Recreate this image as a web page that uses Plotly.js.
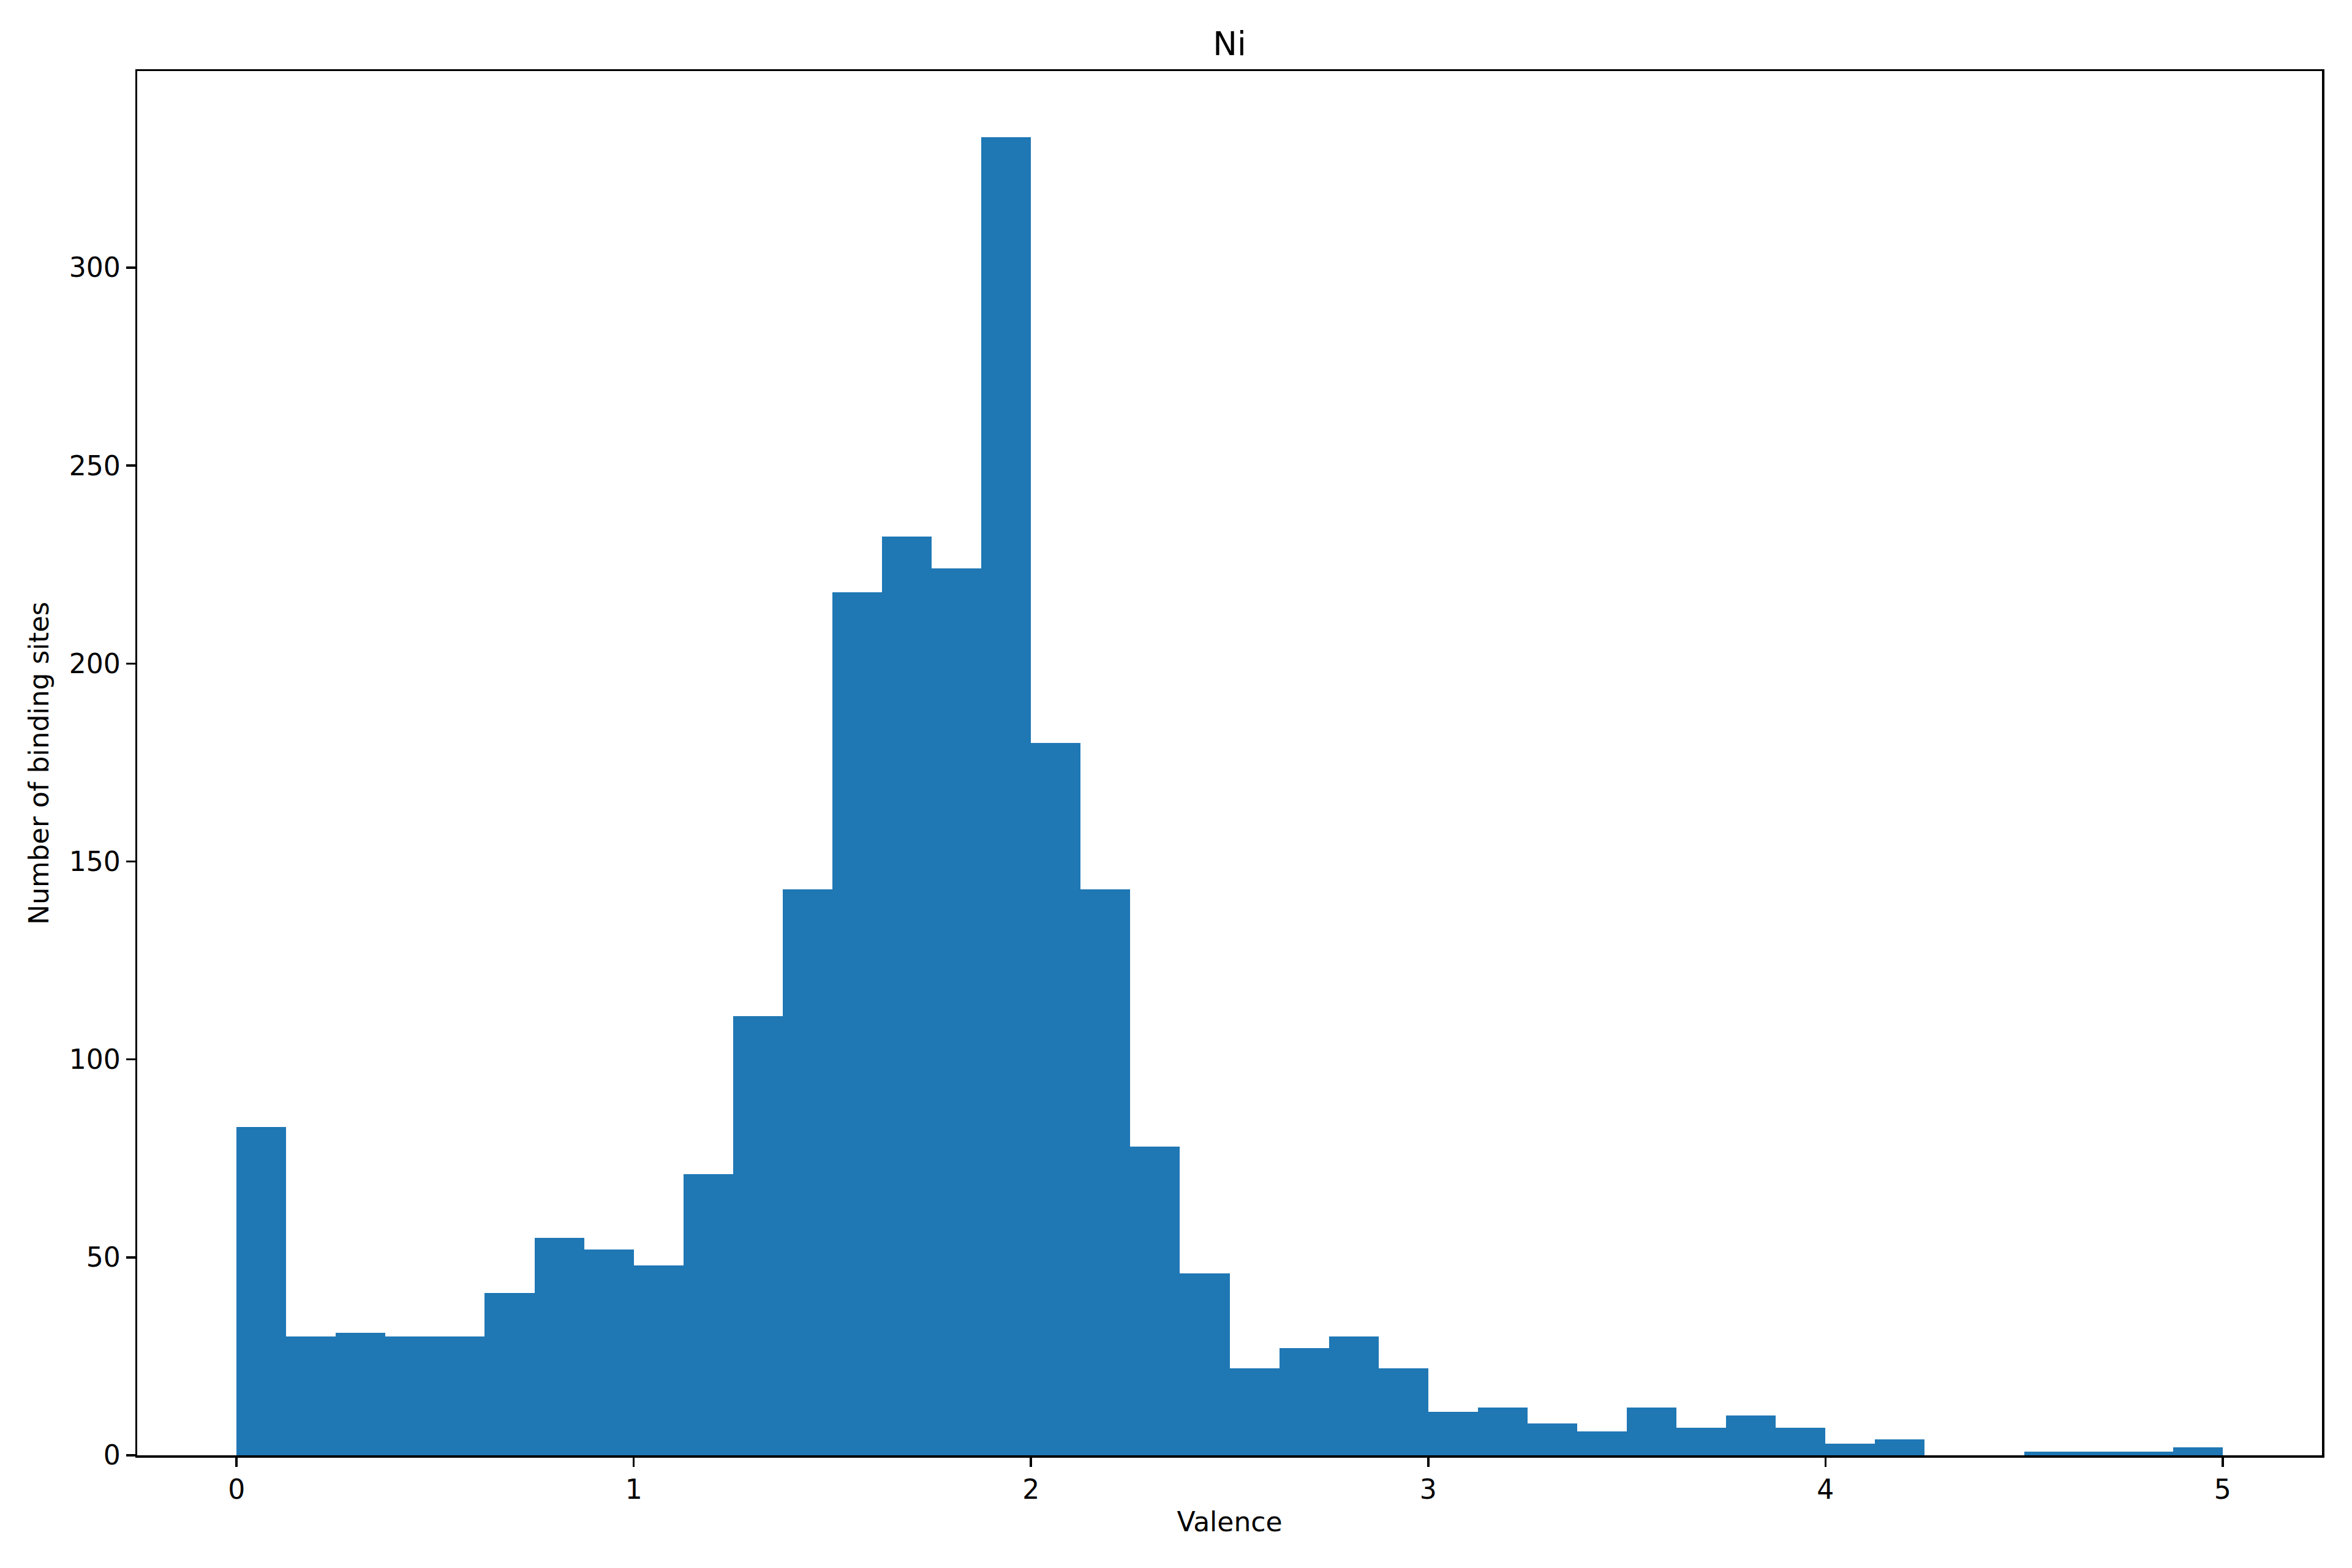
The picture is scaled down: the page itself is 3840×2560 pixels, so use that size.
<!DOCTYPE html>
<html>
<head>
<meta charset="utf-8">
<script src="https://cdn.plot.ly/plotly-3.0.1.min.js"></script>
<style>html,body{margin:0;padding:0;background:#fff;}#chart{width:3840px;height:2560px;}</style>
</head>
<body>
<div id="chart"></div>
<script>
// Histogram of Ni valence: 40 bins from 0 to 5
const binStart = 0;
const binWidth = 0.125;
const counts = [83, 30, 31, 30, 30, 41, 55, 52, 48, 71,
                111, 143, 218, 232, 224, 333, 180, 143, 78, 46,
                22, 27, 30, 22, 11, 12, 8, 6, 12, 7,
                10, 7, 3, 4, 0, 0, 1, 1, 1, 2];
const xTickVals = [0, 1, 2, 3, 4, 5];
const yTickVals = [0, 50, 100, 150, 200, 250, 300];
const titleText = "Ni";
const xTitle = "Valence";
const yTitle = "Number of binding sites";

const leftEdges = counts.map((_, i) => binStart + i * binWidth);

const trace = {
  type: 'bar',
  x: leftEdges,
  y: counts,
  width: binWidth,
  offset: 0,
  marker: {color: '#1f77b4', line: {width: 0}},
  hoverinfo: 'x+y'
};

const font = {family: 'DejaVu Sans', size: 44, color: '#000'};
const axisCommon = {
  showgrid: false,
  zeroline: false,
  showline: true,
  linecolor: '#000',
  linewidth: 3.5,
  mirror: true,
  ticks: 'outside',
  ticklen: 15,
  tickwidth: 3.5,
  tickcolor: '#000',
  tickfont: font,
  automargin: false
};

const layout = {
  width: 3840,
  height: 2560,
  paper_bgcolor: '#fff',
  plot_bgcolor: '#fff',
  font: font,
  showlegend: false,
  bargap: 0,
  margin: {l: 224, r: 49, t: 116, b: 184, pad: 0},
  title: {text: titleText, font: {family: 'DejaVu Sans', size: 53, color: '#000'},
          x: 0.5, xref: 'paper', y: 1 - 71/2560, yref: 'container', yanchor: 'middle'},
  xaxis: Object.assign({}, axisCommon, {
    range: [-0.25, 5.25],
    tickmode: 'array', tickvals: xTickVals, ticktext: xTickVals.map(String),
    title: {text: xTitle, font: font, standoff: 14}
  }),
  yaxis: Object.assign({}, axisCommon, {
    range: [0, 349.65],
    tickmode: 'array', tickvals: yTickVals, ticktext: yTickVals.map(String),
    title: {text: yTitle, font: font, standoff: 20}
  })
};

Plotly.newPlot('chart', [trace], layout, {displayModeBar: false, staticPlot: true});
</script>
</body>
</html>
